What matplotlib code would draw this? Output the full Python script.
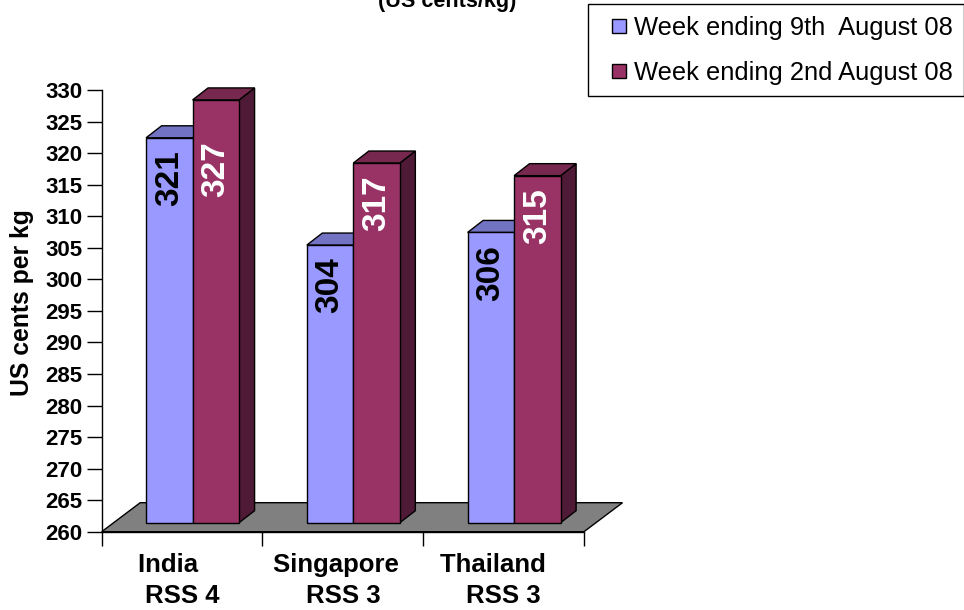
import matplotlib
matplotlib.use('Agg')
import matplotlib.pyplot as plt
from matplotlib.patches import Polygon
from matplotlib.lines import Line2D

# ---- data ----
countries = ['India', 'Singapore', 'Thailand']
grades = ['RSS 4', 'RSS 3', 'RSS 3']
week_9_aug = [321, 304, 306]
week_2_aug = [327, 317, 315]
series_names = ['Week ending 9th  August 08', 'Week ending 2nd August 08']
yticks = list(range(260, 331, 5))
title = '(US cents/kg)'
ylabel = 'US cents per kg'

plt.rcParams['font.family'] = ['Liberation Sans', 'DejaVu Sans']

W, H = 964, 610
fig = plt.figure(figsize=(W / 100, H / 100), dpi=100)
x0, x1, ybot, ytop = 101.7, 584.0, 531.7, 90.0
ax = fig.add_axes([x0 / W, 1 - ybot / H, (x1 - x0) / W, (ybot - ytop) / H])
ymin, ymax = yticks[0], yticks[-1]
ncat = len(countries)
ax.set_xlim(0, ncat)
ax.set_ylim(ymin, ymax)
pxx = (x1 - x0) / ncat
pxy = (ybot - ytop) / (ymax - ymin)


def dxu(px):
    return px / pxx


def dyu(px):
    return px / pxy


# floor
fdx, fdy = dxu(38.5), dyu(29)
floor = Polygon([(0, ymin), (ncat, ymin), (ncat + fdx, ymin + fdy), (fdx, ymin + fdy)],
                closed=True, facecolor='#808080', edgecolor='black', lw=1.0,
                clip_on=False, zorder=1)
ax.add_patch(floor)

colors = [
    dict(front='#9999FF', top='#7373C4', side='#5C5CA8', text='black'),
    dict(front='#993366', top='#76284F', side='#4F1A35', text='white'),
]
series = [week_9_aug, week_2_aug]
bw = dxu(46.5)
off_x, off_y = dxu(10.5), dyu(9)
ddx, ddy = dxu(15.5), dyu(12)

for i in range(ncat):
    for s in range(2):
        v = series[s][i]
        c = colors[s]
        l = i + 0.5 - bw + s * bw + off_x
        b = ymin + off_y
        t = v + off_y
        z = 2 + i * 3 + s
        front = Polygon([(l, b), (l + bw, b), (l + bw, t), (l, t)], closed=True,
                        facecolor=c['front'], edgecolor='black', lw=1.0, clip_on=False, zorder=z)
        top = Polygon([(l, t), (l + bw, t), (l + bw + ddx, t + ddy), (l + ddx, t + ddy)], closed=True,
                      facecolor=c['top'], edgecolor='black', lw=1.0, clip_on=False, zorder=z)
        side = Polygon([(l + bw, b), (l + bw + ddx, b + ddy), (l + bw + ddx, t + ddy), (l + bw, t)],
                       closed=True, facecolor=c['side'], edgecolor='black', lw=1.0, clip_on=False, zorder=z)
        for p in (side, top, front):
            ax.add_patch(p)
        ax.text(l + bw / 2, min(v, 322.5) - 5, str(v), rotation=90, ha='center', va='center',
                fontsize=24, fontweight='bold', color=c['text'], zorder=z + 0.5)

# axes styling
for sp in ('top', 'right'):
    ax.spines[sp].set_visible(False)
for sp in ('left', 'bottom'):
    ax.spines[sp].set_linewidth(1.0)
    ax.spines[sp].set_color('black')

ax.set_yticks(yticks)
ax.set_yticklabels([str(t) for t in yticks], fontweight='bold')
ax.tick_params(axis='y', direction='out', length=11, width=1, labelsize=16, pad=3)

ax.set_xticks(list(range(ncat + 1)))
ax.set_xticklabels([])
ax.tick_params(axis='x', which='major', direction='out', length=10, width=1)
pads = [4, 2, 3]
ax.set_xticks([i + 0.5 for i in range(ncat)], minor=True)
ax.set_xticklabels([f"{n}{' ' * p}\n{g}" for n, g, p in zip(countries, grades, pads)],
                   minor=True, fontweight='bold', fontsize=18.5, linespacing=1.38)
ax.tick_params(axis='x', which='minor', length=0, pad=15.5)

fig.text(22 / W, 1 - 303 / H, ylabel, rotation=90, ha='center', va='center',
         fontsize=17.8, fontweight='bold')
fig.text(447 / W, 1 - 6.5 / H, title, ha='center', va='baseline',
         fontsize=15.6, fontweight='bold')

handles = [Line2D([], [], marker='s', ls='none', markersize=10.1,
                  markerfacecolor=c['front'], markeredgecolor='black', markeredgewidth=1.0)
           for c in colors]
leg = fig.legend(handles, series_names, loc='upper left', bbox_to_anchor=(588 / W, 1 - 4.3 / H),
                 borderaxespad=0, fontsize=18.4, frameon=True, fancybox=False, framealpha=1,
                 edgecolor='black', borderpad=0.45, handlelength=1.55, handletextpad=-0.2,
                 labelspacing=0.82)
leg.get_frame().set_linewidth(1.0)

fig.savefig('out.png', dpi=100)
